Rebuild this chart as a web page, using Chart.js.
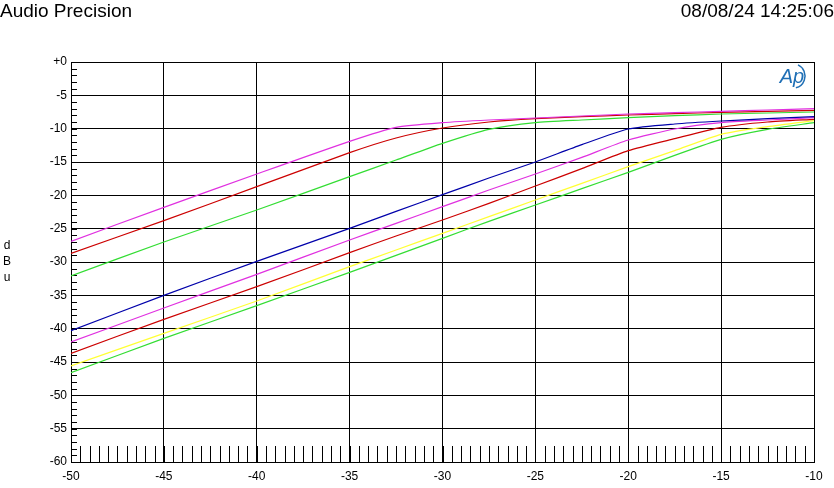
<!DOCTYPE html>
<html>
<head>
<meta charset="utf-8">
<script src="https://cdn.jsdelivr.net/npm/chart.js@4.4.0/dist/chart.umd.min.js"></script>
<style>
  body { margin: 0; background: #fff; }
  #wrap { width: 834px; height: 488px; }
</style>
</head>
<body>
<div id="wrap"><canvas id="c" width="834" height="488"></canvas></div>
<script>
// input level, dBu
const inputLevels = [-50, -45, -40, -35, -32.5, -30, -27.5, -25, -22.5, -20, -17.5, -15, -12.5, -10];

// output level, dBu (upper group)
const upperMagenta = [-26.9, -21.8, -16.8, -11.9, -9.8, -9.1, -8.7, -8.4, -8.1, -7.8, -7.6, -7.4, -7.2, -7.0];
const upperRed     = [-28.7, -23.8, -18.7, -13.6, -11.4, -9.9, -9.0, -8.5, -8.2, -7.95, -7.75, -7.55, -7.4, -7.25];
const upperGreen   = [-32.1, -27.0, -22.2, -17.2, -14.7, -12.2, -10.1, -9.1, -8.7, -8.35, -8.05, -7.8, -7.65, -7.5];

// output level, dBu (lower group)
const lowerBlue    = [-40.3, -35.0, -29.9, -24.95, -22.4, -19.9, -17.4, -15.0, -12.4, -10.05, -9.3, -8.85, -8.5, -8.2];
const lowerMagenta = [-42.0, -36.9, -31.85, -26.7, -24.2, -21.7, -19.2, -16.8, -14.3, -11.7, -10.05, -9.1, -8.7, -8.35];
const lowerRed     = [-43.7, -38.6, -33.7, -28.6, -26.1, -23.7, -21.2, -18.6, -16.0, -13.3, -11.5, -9.8, -9.0, -8.6];
const lowerYellow  = [-45.6, -40.7, -35.85, -30.7, -28.2, -25.7, -23.2, -20.7, -18.2, -15.7, -13.3, -10.85, -9.7, -8.8];
const lowerGreen   = [-46.6, -41.45, -36.55, -31.55, -29.0, -26.45, -23.9, -21.45, -19.0, -16.55, -14.0, -11.6, -10.1, -9.1];

const xMin = -50, xMax = -10, yMin = -60, yMax = 0;

function pts(ys) {
  return inputLevels.map((x, i) => ({ x: x, y: ys[i] }));
}

function line(ys, color) {
  return {
    data: pts(ys),
    borderColor: color,
    borderWidth: 1.2,
    pointRadius: 0,
    showLine: true,
    tension: 0.2,
    fill: false
  };
}

const FONT = 'Arial, "Liberation Sans", sans-serif';

// title, date, unit label, minor ticks, logo
const decor = {
  id: 'decor',
  beforeDatasetsDraw(chart) {
    const ctx = chart.ctx;
    const xs = chart.scales.x, ys = chart.scales.y;
    const a = chart.chartArea;
    ctx.save();
    ctx.strokeStyle = '#000';
    ctx.lineWidth = 1;
    ctx.beginPath();
    // y minor ticks every 1 dB, short, inward from left edge
    for (let v = yMin; v <= yMax; v += 1) {
      const py = Math.round(ys.getPixelForValue(v)) + 0.5;
      ctx.moveTo(a.left, py);
      ctx.lineTo(a.left + 6, py);
    }
    // x ticks every 0.5 dB along the bottom
    for (let v = xMin; v <= xMax + 0.001; v += 0.5) {
      const px = Math.round(xs.getPixelForValue(v)) + 0.5;
      ctx.moveTo(px, a.bottom);
      ctx.lineTo(px, ys.getPixelForValue(-57.6));
    }
    ctx.stroke();
    ctx.restore();
  },
  afterDraw(chart) {
    const ctx = chart.ctx;
    const a = chart.chartArea;
    ctx.save();
    ctx.fillStyle = '#000';
    ctx.font = '19px ' + FONT;
    ctx.textBaseline = 'alphabetic';
    ctx.textAlign = 'left';
    ctx.fillText('Audio Precision', 0, 17);
    ctx.textAlign = 'right';
    ctx.fillText('08/08/24 14:25:06', 834, 17);

    ctx.font = '12px ' + FONT;
    ctx.textAlign = 'center';
    ctx.fillText('d', 7, 249);
    ctx.fillText('B', 7, 265);
    ctx.fillText('u', 7, 281);

    // Ap logo
    ctx.fillStyle = '#1f6fb5';
    ctx.strokeStyle = '#1f6fb5';
    ctx.font = 'italic 20px ' + FONT;
    ctx.textAlign = 'center';
    ctx.fillText('Ap', a.right - 22, a.top + 21);
    ctx.lineWidth = 1.5;
    ctx.beginPath();
    ctx.ellipse(a.right - 20, a.top + 14, 11, 12, 0, -1.2, 1.4);
    ctx.stroke();
    ctx.restore();
  }
};

new Chart(document.getElementById('c'), {
  type: 'scatter',
  data: {
    datasets: [
      line(upperMagenta, '#e030e0'),
      line(upperRed, '#cc0000'),
      line(upperGreen, '#33dd33'),
      line(lowerBlue, '#0000aa'),
      line(lowerMagenta, '#e030e0'),
      line(lowerRed, '#cc0000'),
      line(lowerYellow, '#ffff33'),
      line(lowerGreen, '#33dd33')
    ]
  },
  options: {
    responsive: false,
    animation: false,
    layout: { padding: { left: 0, top: 62, right: 20, bottom: 0 } },
    plugins: { legend: { display: false }, tooltip: { enabled: false } },
    scales: {
      x: {
        type: 'linear', min: xMin, max: xMax,
        afterFit(s) { s.height = 26; },
        grid: { color: '#000', lineWidth: 1, drawTicks: false },
        border: { color: '#000', width: 1 },
        ticks: {
          stepSize: 5, color: '#000', padding: 7,
          font: { family: FONT, size: 12 }
        }
      },
      y: {
        type: 'linear', min: yMin, max: yMax,
        afterFit(s) { s.width = 71; },
        grid: { color: '#000', lineWidth: 1, drawTicks: false },
        border: { color: '#000', width: 1 },
        ticks: {
          stepSize: 5, color: '#000', padding: 4,
          font: { family: FONT, size: 12 },
          callback: v => (v === 0 ? '+0' : String(v))
        }
      }
    }
  },
  plugins: [decor]
});
</script>
</body>
</html>
